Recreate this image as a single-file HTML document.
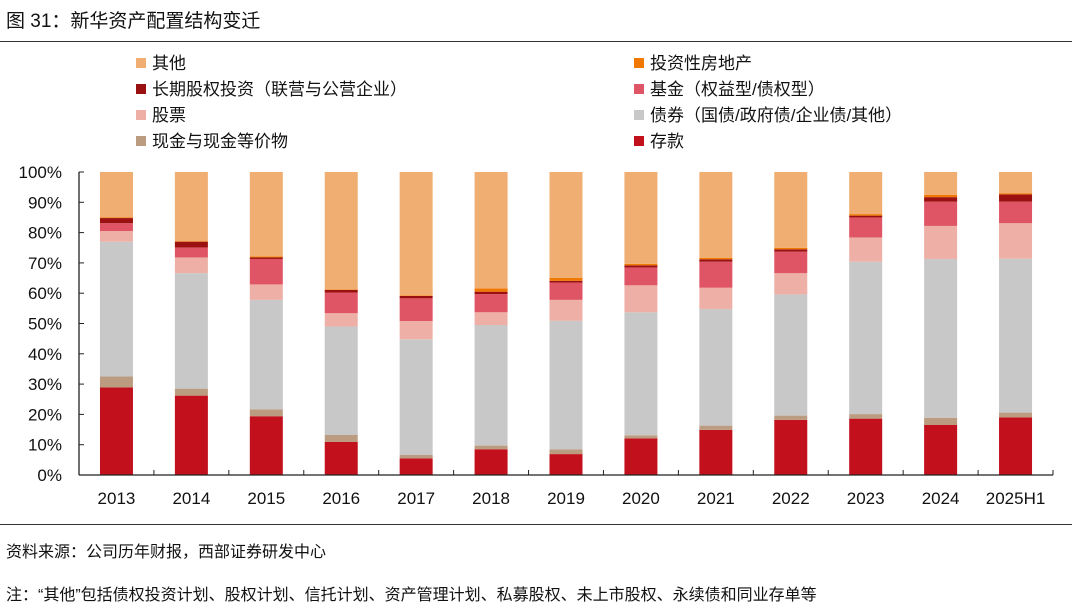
<!DOCTYPE html>
<html><head><meta charset="utf-8"><style>
body{margin:0;background:#fff;width:1080px;height:612px;overflow:hidden;font-family:"Liberation Sans","Noto Sans CJK SC",sans-serif;color:#111}
.t{position:absolute;white-space:nowrap}
</style></head><body>
<div class="t" style="left:6px;top:6px;font-size:19px">图 31：新华资产配置结构变迁</div>
<div style="position:absolute;left:0;top:41px;width:1072px;height:1px;background:#333"></div>
<svg id="c" width="1080" height="612" style="position:absolute;left:0;top:0"></svg>
<div style="position:absolute;left:0;top:524px;width:1072px;height:1px;background:#333"></div>
<div class="t" style="left:6px;top:538px;font-size:16px">资料来源：公司历年财报，西部证券研发中心</div>
<div class="t" style="left:6px;top:581px;font-size:16px">注：“其他”包括债权投资计划、股权计划、信托计划、资产管理计划、私募股权、未上市股权、永续债和同业存单等</div>
<script>
const categories=["2013","2014","2015","2016","2017","2018","2019","2020","2021","2022","2023","2024","2025H1"];
const deposit=[28.9,26.2,19.4,10.9,5.5,8.5,6.9,12.1,14.9,18.2,18.6,16.5,19.0];
const cash=[3.6,2.3,2.3,2.3,1.1,1.2,1.6,1.0,1.4,1.4,1.5,2.4,1.6];
const bonds=[44.5,38.1,36.1,35.8,38.2,39.8,42.4,40.6,38.5,40.0,50.3,52.4,50.8];
const stocks=[3.5,5.2,5.1,4.4,6.0,4.2,6.9,8.9,7.0,7.0,8.0,10.9,11.7];
const funds=[2.6,3.3,8.4,6.8,7.5,6.0,5.7,5.9,8.6,7.1,6.6,8.0,7.1];
const ltEquity=[1.7,1.9,0.5,0.9,0.8,0.8,0.6,0.7,0.8,0.8,0.6,1.5,2.4];
const invProperty=[0.2,0.2,0.3,0.2,0.2,1.1,1.0,0.5,0.5,0.5,0.5,0.8,0.4];
const yTicks=["0%","10%","20%","30%","40%","50%","60%","70%","80%","90%","100%"];
const other=categories.map((c,i)=>100-deposit[i]-cash[i]-bonds[i]-stocks[i]-funds[i]-ltEquity[i]-invProperty[i]);
const series=[
 {n:"存款",v:deposit,c:"#C2101C",k:"deposit"},
 {n:"现金与现金等价物",v:cash,c:"#BC9C80",k:"cash"},
 {n:"债券（国债/政府债/企业债/其他）",v:bonds,c:"#C8C8C8",k:"bonds"},
 {n:"股票",v:stocks,c:"#EEB0A6",k:"stocks"},
 {n:"基金（权益型/债权型）",v:funds,c:"#E05566",k:"funds"},
 {n:"长期股权投资（联营与公营企业）",v:ltEquity,c:"#9B1111",k:"lt-equity"},
 {n:"投资性房地产",v:invProperty,c:"#F07800",k:"inv-property"},
 {n:"其他",v:other,c:"#F0AE72",k:"other"}];
const NS="http://www.w3.org/2000/svg",svg=document.getElementById('c');
function mk(t,a,p){const e=document.createElementNS(NS,t);for(const k in a)e.setAttribute(k,a[k]);(p||svg).appendChild(e);return e;}
const x0=79,x1=1053,y0=475,y1=172;
const step=(x1-x0)/categories.length,bw=33;
const y=v=>y0-(v/100)*(y0-y1);
const xc=i=>x0+step*(i+0.5);
// bars
categories.forEach((c,i)=>{let cum=0;series.forEach(s=>{const v=s.v[i];const r=mk('rect',{x:xc(i)-bw/2,y:y(cum+v),width:bw,height:y(cum)-y(cum+v),fill:s.c});


cum+=v;});});
// axes
mk('line',{x1:x0,y1:y1,x2:x0,y2:y0,stroke:'#222','stroke-width':1.3});
mk('line',{x1:x0,y1:y0,x2:x1,y2:y0,stroke:'#222','stroke-width':1.3});
yTicks.forEach((t,i)=>{const yy=y(i*10);mk('line',{x1:x0,y1:yy,x2:x0+5,y2:yy,stroke:'#222'});
const e=mk('text',{x:62,y:yy+6,'text-anchor':'end','font-size':17,fill:'#111'});e.textContent=t;

});
for(let i=0;i<=categories.length;i++){const xx=x0+step*i;mk('line',{x1:xx,y1:y0,x2:xx,y2:y0-5,stroke:'#222'});}
categories.forEach((c,i)=>{const e=mk('text',{x:xc(i),y:504,'text-anchor':'middle','font-size':17,fill:'#111'});e.textContent=c;

});
// legend
const order=[[7,6],[5,4],[3,2],[1,0]];
order.forEach((row,r)=>row.forEach((si,col)=>{const s=series[si];const lx=col?634:136,ly=63+r*26;
const g=mk('g',{});

mk('rect',{x:lx,y:ly-5,width:10,height:10,fill:s.c},g);
const t=mk('text',{x:lx+16,y:ly+6,'font-size':17,fill:'#111'},g);t.textContent=s.n;}));
</script>
</body></html>
